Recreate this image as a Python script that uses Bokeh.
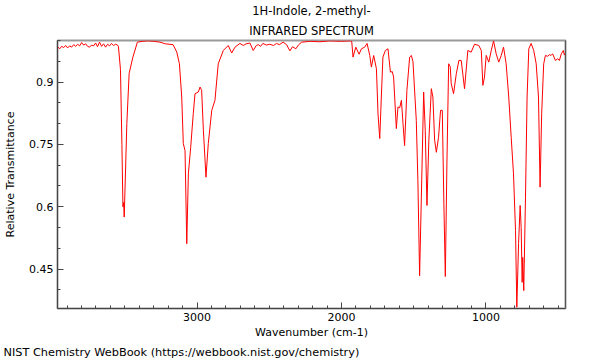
from bokeh.plotting import figure
from bokeh.models import Range1d, FixedTicker, LinearAxis, Title
from bokeh.embed import file_html
from bokeh.resources import INLINE

FONT = "DejaVu Sans"

# ---- data ----
base_wn = [3965, 3951, 3937, 3923, 3910, 3896, 3882, 3868, 3854, 3840, 3827, 3813, 3799, 3785, 3771,
           3758, 3744, 3730, 3716, 3702, 3689, 3675, 3661, 3647, 3633, 3619, 3606, 3592, 3578, 3564, 3550]
base_t = [0.985, 0.980, 0.986, 0.983, 0.988, 0.982, 0.987, 0.984, 0.990, 0.986, 0.991, 0.987, 0.995, 0.989, 0.992,
          0.986, 0.984, 0.989, 0.987, 0.994, 0.985, 0.996, 0.986, 0.992, 0.984, 0.991, 0.987, 0.993, 0.988, 0.991, 0.989]

nh_wn = [3544, 3530, 3520, 3513, 3508, 3504, 3498, 3486, 3470, 3444, 3413, 3380, 3340, 3300, 3256, 3220, 3166]
nh_t = [0.985, 0.93, 0.75, 0.60, 0.61, 0.575, 0.65, 0.80, 0.921, 0.96, 0.996, 0.998, 0.999, 0.998, 0.996, 0.992, 0.990]

ch_wn = [3140, 3122, 3106, 3095, 3083, 3071, 3060, 3044, 3026, 3014, 2991, 2979, 2968, 2956, 2938, 2922,
         2898, 2876, 2853, 2818, 2784, 2760, 2737, 2703]
ch_t = [0.972, 0.944, 0.864, 0.752, 0.735, 0.511, 0.679, 0.743, 0.824, 0.872, 0.876, 0.888, 0.880, 0.784, 0.671, 0.752,
        0.832, 0.856, 0.944, 0.976, 0.988, 0.970, 0.984, 0.993]

mid_wn = [2680, 2660, 2634, 2611, 2590, 2576, 2560, 2544, 2520, 2496, 2470, 2450, 2430, 2404, 2380, 2357,
          2339, 2316, 2296, 2276, 2219, 2150, 2081, 2000, 1940, 1929]
mid_t = [0.988, 0.992, 0.994, 0.976, 0.988, 0.990, 0.986, 0.993, 0.989, 0.991, 0.988, 0.993, 0.990, 0.996, 0.990, 0.975,
         0.985, 0.980, 0.990, 0.996, 0.998, 0.997, 0.999, 0.998, 0.999, 0.998]

fp1_wn = [1920, 1901, 1878, 1862, 1839, 1823, 1804, 1793, 1777, 1758, 1747, 1735, 1724, 1713, 1696, 1678,
          1661, 1648, 1639, 1620, 1609, 1597, 1585, 1574, 1563, 1547, 1528, 1516, 1505]
fp1_t = [0.960, 0.984, 0.967, 0.980, 0.984, 0.993, 0.964, 0.936, 0.964, 0.932, 0.824, 0.764, 0.864, 0.960, 0.976, 0.980,
         0.924, 0.925, 0.912, 0.788, 0.840, 0.838, 0.856, 0.800, 0.747, 0.880, 0.960, 0.964, 0.949]

fp2_wn = [1482, 1471, 1459, 1447, 1431, 1420, 1408, 1395, 1378, 1367, 1355, 1343, 1328, 1314, 1302, 1291, 1281,
          1270, 1258, 1247, 1240, 1224, 1205, 1187, 1171, 1148, 1125, 1102, 1079, 1049, 1032, 1021, 1010]
fp2_t = [0.808, 0.663, 0.434, 0.623, 0.876, 0.784, 0.603, 0.760, 0.884, 0.864, 0.760, 0.731, 0.767, 0.832, 0.832, 0.607, 0.432,
         0.703, 0.944, 0.937, 0.896, 0.872, 0.920, 0.952, 0.952, 0.884, 0.976, 0.972, 0.991, 0.988, 0.976, 0.892, 0.912]

fp3_wn = [998, 980, 963, 947, 929, 911, 894, 878, 860, 842, 825, 809, 795, 786, 774, 763, 756, 749, 745, 738, 726,
          715, 703, 687, 669, 652, 636, 625, 614, 600, 588, 572, 560, 549, 538, 519, 503, 491, 478, 464, 457, 449]
fp3_t = [0.964, 0.948, 0.976, 0.999, 0.968, 0.948, 0.964, 0.984, 0.944, 0.864, 0.767, 0.679, 0.543, 0.358, 0.511, 0.603, 0.550, 0.418, 0.478, 0.398, 0.623,
         0.864, 0.980, 0.993, 0.976, 0.944, 0.864, 0.647, 0.824, 0.944, 0.964, 0.962, 0.966, 0.964, 0.968, 0.952, 0.956, 0.952, 0.968, 0.976, 0.965, 0.970]

wavenumber = base_wn + nh_wn + ch_wn + mid_wn + fp1_wn + fp2_wn + fp3_wn
transmittance = base_t + nh_t + ch_t + mid_t + fp1_t + fp2_t + fp3_t

x_ticks = [1000, 2000, 3000]
x_minor_ticks = list(range(500, 4000, 100))
y_ticks = [0.45, 0.6, 0.75, 0.9]
y_tick_labels = ["0.45", "0.6", "0.75", "0.9"]
y_minor_ticks = [0.35, 0.4, 0.45, 0.5, 0.55, 0.6, 0.65, 0.7, 0.75, 0.8, 0.85, 0.9, 0.95, 1.0]

title_lines = ["1H-Indole, 2-methyl-", "INFRARED SPECTRUM"]
x_label = "Wavenumber (cm-1)"
y_label = "Relative Transmittance"
footer = "NIST Chemistry WebBook (https://webbook.nist.gov/chemistry)"

# ---- figure ----
p = figure(width=600, height=360, output_backend="svg", toolbar_location=None, title=None,
           x_range=Range1d(3966, 449), y_range=Range1d(0.355, 1.0),
           min_border_left=57, min_border_right=35, min_border_top=40, min_border_bottom=52,
           x_axis_label=x_label, y_axis_label=y_label)
p.grid.visible = False
p.outline_line_color = "#999999"
p.outline_line_width = 2
p.background_fill_color = "white"
p.border_fill_color = "white"

p.line(wavenumber, transmittance, line_color="#ff0000", line_width=1)

for ax in (p.xaxis[0], p.yaxis[0]):
    ax.major_tick_in = 6
    ax.major_tick_out = 0
    ax.minor_tick_in = 3
    ax.minor_tick_out = 0
    ax.axis_line_color = "#444444"
    ax.major_tick_line_color = "#444444"
    ax.minor_tick_line_color = "#444444"
    ax.major_label_text_font = FONT
    ax.major_label_text_font_size = "11px"
    ax.major_label_text_color = "black"
    ax.axis_label_text_font = FONT
    ax.axis_label_text_font_size = "11px"
    ax.axis_label_text_font_style = "normal"
    ax.axis_label_text_color = "black"

p.xaxis[0].ticker = FixedTicker(ticks=x_ticks, minor_ticks=x_minor_ticks)
p.xaxis[0].major_label_standoff = 4
p.xaxis[0].axis_label_standoff = 2
p.yaxis[0].ticker = FixedTicker(ticks=y_ticks, minor_ticks=y_minor_ticks)
p.yaxis[0].major_label_overrides = dict(zip(y_ticks, y_tick_labels))
p.yaxis[0].major_label_standoff = 4
p.yaxis[0].axis_label_standoff = 9

right = LinearAxis(ticker=FixedTicker(ticks=[]), axis_line_color="#555555",
                   major_tick_line_color=None, minor_tick_line_color=None,
                   major_tick_out=0, minor_tick_out=0, major_label_standoff=0)
p.add_layout(right, "right")

# two title lines stacked above the frame, footer below the x axis
p.add_layout(Title(text=title_lines[1], align="center", text_font=FONT, text_font_size="11.5px",
                   text_font_style="normal", text_color="black", standoff=5), "above")
p.add_layout(Title(text=title_lines[0], align="center", text_font=FONT, text_font_size="11.5px",
                   text_font_style="normal", text_color="black", standoff=3), "above")
p.add_layout(Title(text=footer, align="left", offset=-54, text_font=FONT, text_font_size="11.3px",
                   text_font_style="normal", text_color="black", standoff=4), "below")

open("out.html", "w").write(file_html(p, INLINE))
